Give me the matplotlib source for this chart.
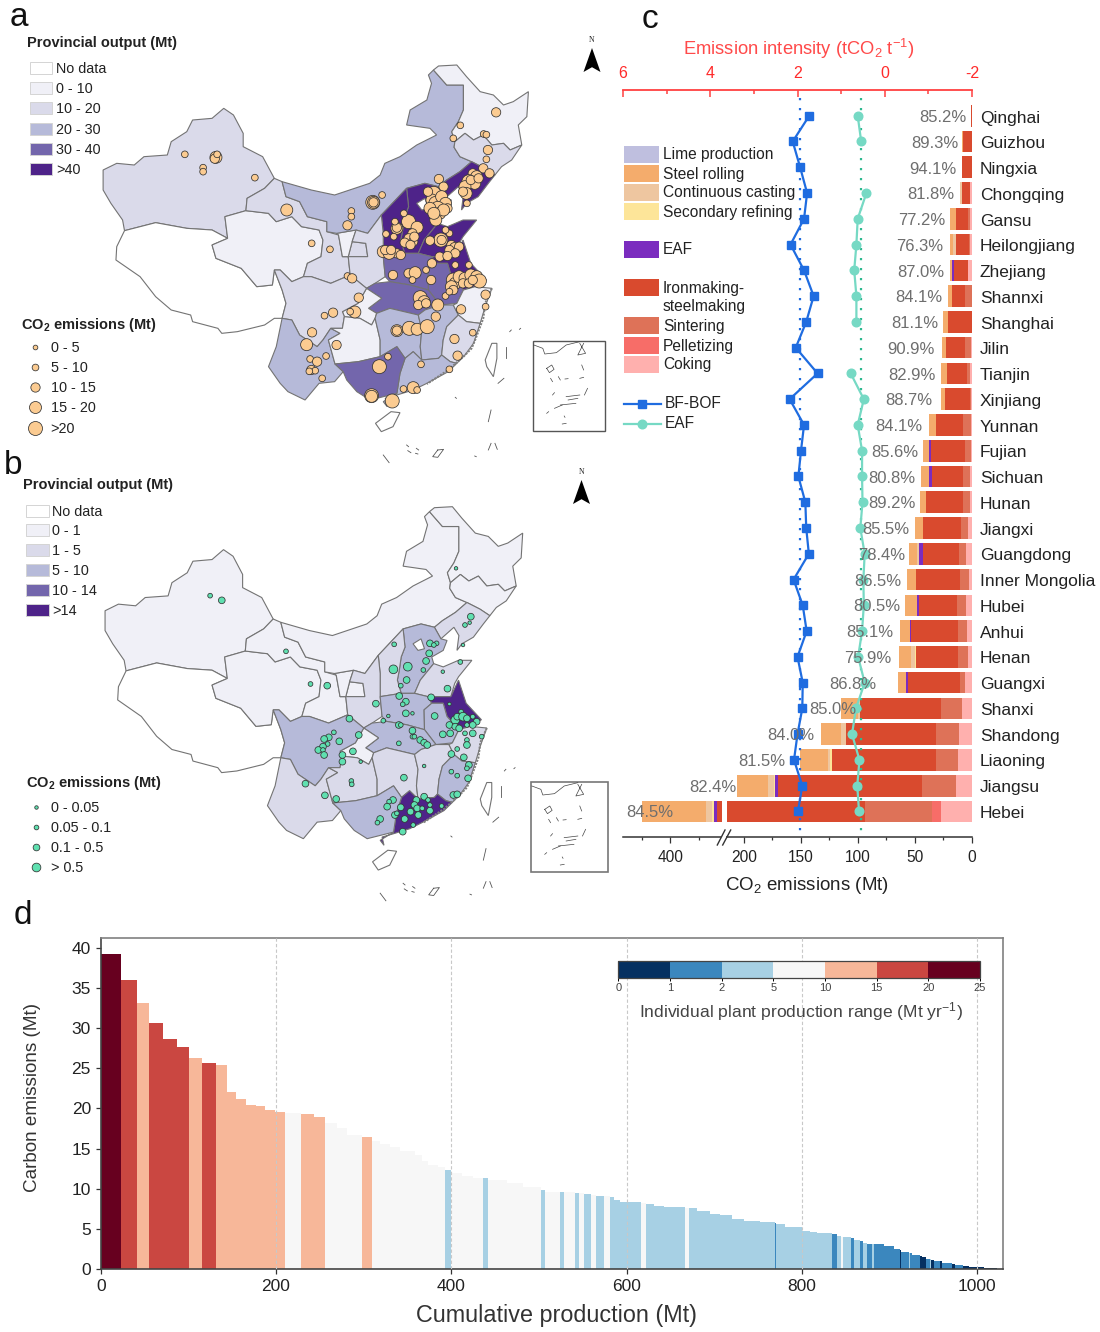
import numpy as np
import matplotlib
matplotlib.use('Agg')
import matplotlib.pyplot as plt
from matplotlib.colors import ListedColormap, BoundaryNorm
from matplotlib.cm import ScalarMappable
from matplotlib.patches import Polygon, Rectangle

plt.rcParams['font.family'] = ['Liberation Sans', 'DejaVu Sans']
plt.rcParams['mathtext.fontset'] = 'custom'
plt.rcParams['mathtext.rm'] = 'Liberation Sans'
plt.rcParams['mathtext.bf'] = 'Liberation Sans:bold'
plt.rcParams['mathtext.default'] = 'regular'

provinces = {
    'Xinjiang': [(265,510),(300,490),(345,495),(370,470),(430,465),(440,425),(480,395),(495,360),(545,355),(575,325),(600,345),(625,400),(625,440),(675,470),(705,535),(680,565),(635,595),(632,632),(578,650),(585,715),(545,690),(480,685),(400,668),(320,692),(315,660),(285,610),(265,570)],
    'Tibet': [(320,692),(300,740),(298,780),(360,830),(400,890),(440,930),(490,945),(495,965),(560,985),(570,1000),(610,995),(680,975),(705,955),(725,955),(735,910),(725,870),(705,810),(700,855),(660,860),(620,805),(555,775),(545,735),(585,715),(545,690),(480,685),(400,668)],
    'Qinghai': [(578,650),(632,632),(690,640),(710,665),(750,650),(775,680),(820,690),(830,720),(825,770),(790,790),(780,830),(750,845),(720,810),(705,810),(700,855),(660,860),(620,805),(555,775),(545,735),(585,715)],
    'Gansu': [(705,535),(725,545),(735,590),(770,605),(790,650),(840,665),(840,695),(870,705),(880,770),(895,770),(905,725),(940,730),(945,770),(895,770),(900,825),(850,850),(800,830),(780,830),(790,790),(825,770),(830,720),(820,690),(775,680),(750,650),(710,665),(690,640),(632,632),(635,595),(680,565)],
    'Ningxia': [(865,700),(915,690),(905,725),(895,770),(880,770),(870,705)],
    'Inner Mongolia': [(725,545),(800,570),(860,585),(950,550),(977,525),(989,490),(1028,470),(1071,435),(1122,405),(1105,385),(1045,375),(1054,330),(1097,300),(1109,250),(1101,225),(1114,210),(1148,255),(1191,255),(1191,330),(1178,365),(1161,395),(1169,425),(1167,442),(1182,470),(1212,485),(1182,515),(1148,540),(1127,560),(1092,550),(1045,565),(980,645),(945,700),(915,690),(865,700),(840,695),(840,665),(790,650),(770,605),(735,590)],
    'Heilongjiang': [(1114,210),(1127,198),(1174,195),(1199,230),(1234,275),(1268,285),(1294,315),(1319,305),(1358,275),(1354,350),(1332,375),(1341,435),(1311,450),(1294,430),(1264,435),(1242,405),(1217,420),(1195,400),(1169,425),(1161,395),(1178,365),(1191,330),(1191,255),(1148,255)],
    'Jilin': [(1169,425),(1195,400),(1217,420),(1242,405),(1264,435),(1294,430),(1311,450),(1341,435),(1315,480),(1289,500),(1272,525),(1246,505),(1212,485),(1182,470),(1167,442)],
    'Liaoning': [(1212,485),(1246,505),(1272,525),(1255,550),(1229,590),(1199,610),(1186,630),(1191,585),(1178,560),(1144,595),(1127,560),(1148,540),(1182,515)],
    'Hebei': [(1045,565),(1092,550),(1127,560),(1144,595),(1160,600),(1150,630),(1120,650),(1125,670),(1090,720),(1075,760),(1040,760),(1030,720),(1035,690),(1040,650),(1050,620)],
    'Beijing': [(1071,610),(1092,595),(1101,625),(1084,630)],
    'Shanxi': [(980,645),(1045,565),(1050,620),(1040,650),(1035,690),(1030,720),(1040,760),(985,770),(985,700)],
    'Shaanxi': [(915,690),(945,700),(980,645),(985,700),(985,770),(990,830),(964,850),(942,865),(900,825),(895,770),(945,770),(940,730),(905,725)],
    'Shandong': [(1075,760),(1090,720),(1125,670),(1150,680),(1190,660),(1225,660),(1190,710),(1180,730),(1170,770),(1110,770)],
    'Henan': [(985,770),(1040,760),(1075,760),(1110,770),(1120,790),(1100,810),(1101,870),(1054,855),(1002,845),(990,830)],
    'Jiangsu': [(1110,770),(1170,770),(1190,720),(1210,790),(1250,840),(1221,860),(1191,870),(1160,830),(1150,790),(1120,790)],
    'Anhui': [(1120,790),(1150,790),(1160,830),(1191,870),(1174,910),(1131,915),(1101,870),(1100,810)],
    'Hubei': [(947,925),(981,895),(942,865),(964,850),(1002,845),(1054,855),(1101,870),(1131,915),(1092,930),(1075,945),(1002,925),(968,940)],
    'Chongqing': [(880,935),(920,910),(942,865),(981,895),(947,925),(968,940),(964,955),(955,975),(925,955),(885,950)],
    'Sichuan': [(705,810),(720,810),(750,845),(780,830),(800,830),(850,850),(900,825),(942,865),(920,910),(880,935),(885,950),(880,985),(850,985),(830,1020),(815,1040),(770,1005),(750,960),(725,955),(735,910),(725,870)],
    'Yunnan': [(725,955),(750,960),(770,1005),(815,1040),(830,1020),(850,985),(874,1000),(844,1020),(861,1092),(882,1115),(860,1145),(820,1150),(784,1200),(740,1175),(720,1150),(690,1100),(710,1040)],
    'Guizhou': [(850,985),(880,985),(885,950),(925,955),(955,975),(964,955),(977,1020),(977,1070),(921,1085),(861,1092),(844,1020),(874,1000)],
    'Hunan': [(968,940),(1002,925),(1075,945),(1084,990),(1080,1040),(1084,1080),(1062,1055),(1041,1075),(1020,1040),(977,1070),(977,1020),(964,955)],
    'Jiangxi': [(1075,945),(1092,930),(1131,915),(1165,915),(1178,945),(1148,980),(1139,1020),(1135,1065),(1127,1075),(1084,1080),(1080,1040),(1084,990)],
    'Zhejiang': [(1191,870),(1221,860),(1264,865),(1247,920),(1234,970),(1199,965),(1178,945),(1165,915),(1174,910)],
    'Fujian': [(1178,945),(1199,965),(1234,970),(1217,1030),(1195,1065),(1174,1090),(1157,1085),(1135,1065),(1139,1020),(1148,980)],
    'Guangdong': [(1041,1075),(1062,1055),(1084,1080),(1127,1075),(1135,1065),(1157,1085),(1174,1090),(1152,1115),(1097,1150),(1062,1170),(1020,1185),(990,1195),(995,1220),(985,1205),(1020,1180),(1028,1120)],
    'Guangxi': [(861,1092),(921,1085),(977,1070),(1020,1040),(1041,1075),(1028,1120),(1020,1180),(951,1200),(917,1175),(891,1140),(882,1115)],
    'Hainan': [(965,1270),(1005,1235),(1028,1238),(1010,1280),(980,1295)],
    'Taiwan': [(1247,1080),(1264,1030),(1277,1030),(1277,1075),(1268,1130),(1251,1100)],
}
rough_coast = [(1264,865),(1247,910),(1242,955),(1221,1020),(1212,1045),(1191,1070),(1152,1110),(1097,1152)]

# class index of each province: -1 no data, 0..4 the five legend colours
output_a = {'Xinjiang':1,'Tibet':-1,'Qinghai':0,'Gansu':1,'Ningxia':0,'Inner Mongolia':2,'Heilongjiang':0,'Jilin':1,'Liaoning':4,'Hebei':4,'Beijing':-1,'Shanxi':4,'Shaanxi':1,'Shandong':4,'Henan':3,'Jiangsu':4,'Anhui':3,'Hubei':3,'Chongqing':0,'Sichuan':1,'Yunnan':2,'Guizhou':0,'Hunan':2,'Jiangxi':2,'Zhejiang':0,'Fujian':1,'Guangdong':2,'Guangxi':3,'Hainan':-1,'Taiwan':-1}
output_b = {'Xinjiang':0,'Tibet':-1,'Qinghai':0,'Gansu':0,'Ningxia':0,'Inner Mongolia':0,'Heilongjiang':0,'Jilin':0,'Liaoning':1,'Hebei':2,'Beijing':-1,'Shanxi':1,'Shaanxi':1,'Shandong':1,'Henan':2,'Jiangsu':4,'Anhui':2,'Hubei':2,'Chongqing':0,'Sichuan':2,'Yunnan':1,'Guizhou':1,'Hunan':1,'Jiangxi':1,'Zhejiang':1,'Fujian':2,'Guangdong':4,'Guangxi':2,'Hainan':-1,'Taiwan':-1}
map_colors = ['#F0F0F7', '#DADAEA', '#B6BAD9', '#7366AC', '#4E2389']

# plants: x, y, size class
plants_a = [(1275,337,2),(1183,376,1),(1165,415,1),(1243,402,1),(1250,404,1),(1254,450,2),(1250,478,1),(1242,505,2),(1258,520,2),
    (1215,520,2),(1225,530,3),(1205,545,4),(1220,550,3),(1195,560,3),(1198,580,3),(1210,540,2),(1230,535,2),(1200,610,1),(1190,575,2),
    (1128,537,2),(1140,560,2),(1115,580,4),(1110,600,3),(1120,610,4),(1135,590,3),(1145,610,3),(1125,625,4),(1105,625,3),(1150,625,2),(1130,640,3),(1120,660,3),(1100,575,2),(1140,630,3),(1115,640,3),
    (958,607,4),(960,607,3),(960,607,2),(982,585,1),(903,633,1),(903,650,1),(893,676,2),
    (475,463,1),(555,472,3),(552,476,2),(558,463,1),(522,503,1),(522,515,1),(655,533,1),
    (737,630,3),(801,730,1),(848,748,1),(893,828,1),(905,835,2),
    (922,893,2),(856,938,2),(834,947,1),(912,936,3),(900,935,1),(802,997,2),(788,1034,3),(865,1035,2),(838,1068,1),(797,1077,1),(815,1085,2),(800,1110,2),(810,1112,1),(795,1114,1),(828,1135,1),
    (1050,665,4),(1020,685,3),(1020,683,2),(1012,710,1),(992,702,1),(1072,682,3),(1038,640,1),(1015,665,1),(1020,760,2),(1030,765,2),(985,755,3),(1000,760,3),(990,750,2),(1005,750,2),(1060,700,2),(1050,715,2),(1062,725,2),(1040,728,2),(1055,735,2),(1065,710,2),
    (1133,720,4),(1135,720,2),(1105,722,2),(1155,700,1),(1160,735,2),(1170,745,3),(1155,750,2),(1180,740,2),(1170,760,2),(1145,690,1),(1130,770,2),(1150,768,2),(1110,790,2),(1095,810,1),
    (1010,825,2),(1050,820,2),(1067,818,3),(1108,840,2),(1060,840,1),
    (1165,840,4),(1170,850,3),(1180,830,3),(1195,835,3),(1210,825,3),(1225,830,3),(1232,843,4),(1160,860,3),(1190,850,2),(1205,850,2),(1215,840,2),(1170,795,1),(1205,795,1),(1165,870,2),(1145,888,1),(1155,875,1),(1248,884,2),
    (1080,893,4),(1090,905,3),(1075,915,2),(1095,910,2),(1125,915,3),
    (1185,928,2),(1248,920,1),(1215,998,1),(1168,1017,2),(1176,1067,2),(1155,1108,1),(1120,950,2),
    (1020,992,3),(1020,992,2),(1052,985,4),(1072,988,3),(1098,980,4),
    (975,1100,4),(955,1187,4),(955,1189,3),(997,1070,1),
    (1082,1093,1),(1062,1163,3),(1037,1167,1),(1072,1170,1),(1008,1203,4)]
plants_b = [(540,437,1),(570,451,2),(1172,355,0),(1210,500,2),(1195,525,1),(1207,518,0),(1190,585,0),(1183,636,1),(1138,665,0),(735,604,1),(798,702,1),(841,707,2),(1013,583,1),(1105,580,2),(1122,580,1),(1115,585,1),(1103,610,2),(1095,633,2),(1088,660,1),(1048,650,3),(1011,658,3),(1045,690,2),(1030,707,1),(1026,738,2),(1043,755,2),(1035,763,1),(1043,790,2),(1060,790,0),(966,761,2),(898,806,2),(985,812,1),(998,798,0),(1025,825,2),(1030,825,1),(1060,842,2),(1060,860,1),(1150,716,2),(1108,742,2),(1117,798,2),(1155,762,0),(1170,810,3),
    (1185,785,1),(1175,800,2),(1190,800,3),(1200,805,2),(1215,800,1),(1225,815,2),(1155,825,2),(1170,830,2),(1180,835,2),(1200,825,1),(1215,825,2),(1215,850,2),(1195,850,1),(1157,850,2),(1138,853,2),(1200,870,1),(1200,885,2),(1175,897,1),(1160,912,2),(1192,922,2),(1238,860,1),(1025,880,1),(1065,860,1),(1080,870,2),(1090,878,2),(1098,885,2),(1090,948,0),
    (858,847,1),(845,862,2),(833,867,2),(842,882,1),(830,890,2),(818,900,2),(830,900,1),(833,915,2),(872,874,2),(922,855,2),(907,904,2),(880,915,2),(880,935,2),(927,935,0),(785,1001,2),(835,1036,2),(864,1047,2),(903,993,1),(904,1003,1),(1038,983,2),
    (1160,965,1),(1175,977,1),(1205,945,2),(1200,955,1),(1203,985,2),(1165,1035,2),(1175,1033,2),
    (1070,1050,2),(1090,1040,2),(1100,1050,1),(1065,1065,2),(1072,1075,2),(1055,1085,2),(1075,1095,2),(1105,1065,1),(1105,1082,2),(1135,1068,1),(1085,1075,1),(1030,1072,2),(1015,1095,2),(1020,1090,1),(1040,1107,2),(1062,1125,1),(1035,1145,2),(1010,1050,2),(1000,1055,1),(995,1070,2),(977,1107,2),(970,1118,1)]
sizes_a = [4.7, 6.7, 9.3, 12, 14]
sizes_b = [3.5, 4.7, 6.7, 8.7]

# island dashes south of the mainland and the inset coast
sea_marks = [[(1300,1040),(1300,1075)],[(1280,1150),(1295,1135)],[(1255,1265),(1262,1230)],[(985,1365),(1000,1388)],[(1125,1350),(1140,1348),(1125,1372),(1112,1370),(1125,1350)],[(1255,1350),(1262,1330)],[(1272,1330),(1278,1348)],[(1045,1335),(1050,1340)],[(1048,1352),(1056,1358)],[(1070,1345),(1076,1350)],[(1068,1360),(1074,1362)],[(1220,1368),(1224,1370)],[(1170,1192),(1173,1195)],[(1310,995),(1314,990)],[(1335,988),(1338,985)]]
inset_lines = [[(1372,1035),(1395,1045),(1400,1062),(1430,1058),(1455,1035),(1490,1025)],[(1490,1030),(1505,1060),(1485,1065),(1500,1030)],[(1405,1105),(1418,1095),(1424,1108),(1412,1118),(1405,1105)],[(1495,1095),(1500,1110)],[(1415,1135),(1420,1145)],[(1435,1130),(1440,1140)],[(1452,1137),(1460,1136)],[(1490,1135),(1500,1132)],[(1510,1165),(1502,1185)],[(1455,1190),(1490,1185)],[(1460,1200),(1485,1195)],[(1440,1215),(1480,1210)],[(1420,1185),(1425,1178)],[(1405,1240),(1410,1235)],[(1425,1225),(1445,1215)],[(1450,1248),(1452,1252)],[(1445,1272),(1455,1270)]]

legend_a = ['No data', '0 - 10', '10 - 20', '20 - 30', '30 - 40', '>40']
legend_b = ['No data', '0 - 1', '1 - 5', '5 - 10', '10 - 14', '>14']
co2_a = ['0 - 5', '5 - 10', '10 - 15', '15 - 20', '>20']
co2_b = ['0 - 0.05', '0.05 - 0.1', '0.1 - 0.5', '> 0.5']

# ---- panel c ----
regions = ['Qinghai','Guizhou','Ningxia','Chongqing','Gansu','Heilongjiang','Zhejiang','Shannxi','Shanghai','Jilin','Tianjin','Xinjiang','Yunnan','Fujian','Sichuan','Hunan','Jiangxi','Guangdong','Inner Mongolia','Hubei','Anhui','Henan','Guangxi','Shanxi','Shandong','Liaoning','Jiangsu','Hebei']
coking =     [0,0.4,0.3,1.5,1.5,1.7,3.2,0.3,0,0.9,1.7,0.6,0.6,0.9,1.7,2,3.2,5.6,2.9,5.3,4.4,3.8,6.4,8.8,11.1,12,14,27]
pelletizing =[0,0,0,0,0,0,0,0,0,0,0,0,0,0,0,0,0,0,0,0,0,0,0,0,0,0,0,8.5]
sintering =  [0,0,0,0,2,0.6,0,5.5,0,5.5,2.6,1.2,7,5.3,5.8,6,6.7,6.1,7.6,7.6,7.9,8.5,4.1,18.4,20.5,19.6,29.5,58]
ironmaking = [0.7,7.8,8.2,7,10.8,11.7,13,11.4,21,16.7,18,22,23.7,29.8,27.8,32.5,33,31,38.9,33.6,41.2,36.8,45.3,71,78.9,91,126.3,141.5]
eaf_part =   [0,0,0,0,0,0,1,0,0.4,0,0,0,0,1.5,2,0,0,3.8,0,1.8,1.2,0,2,0,0,0,2.6,10]
secondary =  [0,0,0,0,0,0,0,0,0,0,0,0,0,0,0,0,0,0,0,0,0,0.5,0,0,0,1.5,1.2,8]
casting =    [0,0,0,2.3,0,2.3,0,0,0,0,0,0,0,0,0,0,0,1.5,0,0,0,4.1,0,1.5,4.1,2,5,21]
rolling =    [0.3,0.6,0.5,0,4.7,2.9,1.8,3.5,4.4,2.9,4.7,3.5,6.4,5.3,7,5,7.3,7.6,7.6,10.5,8.5,10.5,7.3,14.9,17.5,24.6,27.2,224]
stages = [coking, pelletizing, sintering, ironmaking, eaf_part, secondary, casting, rolling]
stage_colors = ['#FFB0AE', '#F76D68', '#DE7258', '#D94A2E', '#7B2CBF', '#FDE599', '#EEC6A0', '#F4AC6C']
share = ['85.2%','89.3%','94.1%','81.8%','77.2%','76.3%','87.0%','84.1%','81.1%','90.9%','82.9%','88.7%','84.1%','85.6%','80.8%','89.2%','85.5%','78.4%','86.5%','80.5%','85.1%','75.9%','86.8%','85.0%','84.0%','81.5%','82.4%','84.5%']
nan = float('nan')
bf_bof = [1.73,2.11,1.94,1.78,1.85,2.16,1.85,1.63,1.80,2.04,1.54,2.18,1.85,1.92,1.98,1.82,1.80,1.74,2.09,1.88,1.79,2.00,1.88,1.89,2.00,2.08,1.89,1.99]
eaf_line = [0.62,0.54,nan,0.42,0.62,0.65,0.70,0.65,0.65,nan,0.78,0.48,0.62,0.52,0.52,0.51,0.56,0.46,0.49,0.48,0.52,0.61,0.46,0.66,0.75,0.58,0.63,0.59]
bf_mean = 1.95
eaf_mean = 0.54
share_right = [966,958.3,956.7,954.3,945,943.3,944,942.7,938.3,935,936,932.7,922.7,918.3,915,916,909.3,905,901,900,893.3,891,876,856.7,814.3,785,736,673.3]
stage_legend = [('Lime production','#BFBFDF',154),('Steel rolling','#F4AC6C',173),('Continuous casting','#EEC6A0',192),('Secondary refining','#FDE599',211),('EAF','#7B2CBF',249),('Ironmaking-\nsteelmaking','#D94A2E',287),('Sintering','#DE7258',325.7),('Pelletizing','#F76D68',345),('Coking','#FFB0AE',364)]

# ---- panel d: visible steps of the sorted plant bars ----
run_end = [23.2,41.1,55.5,70.7,86.7,101.1,116,131.9,144.5,154.4,166.2,176.8,187.5,198.9,209.9,228.5,243.3,255.5,269.2,281,297.7,309.1,318.6,330,341.4,358.6,366.2,373.8,385.2,393.2,399.2,411.8,425.1,436.5,441.8,463.1,482.1,502.3,507.2,523.9,528.1,
    540.7,545.2,551,559.7,565.4,574.5,580.6,585.9,592.8,616.3,621.7,630.8,642.2,666.2,671.5,680.2,695.4,706.8,720.2,733.5,752.5,768.8,770.3,781,800,809.5,817.1,834.2,839.9,844.5,846.4,855.9,859.7,866.5,869.6,874.1,879.8,882.5,893.2,904.6,
    911.4,912.9,921.7,923.6,925.5,935,936.9,941,946,947,951,958,960,971,975,984,990,999.6,1008,1015,1022,1029]
run_height = [39.25,36.0,33.1,30.6,28.6,27.7,26.3,25.6,25.35,22.0,21.2,20.4,20.25,19.75,19.5,19.45,19.3,18.9,18.2,17.55,16.7,16.4,15.9,15.6,15.2,14.65,14.2,13.5,13.0,12.65,12.35,11.95,11.55,11.3,11.3,11.1,10.7,10.2,9.8,9.65,9.65,
    9.55,9.45,9.45,9.4,9.25,9.15,9.05,8.95,8.55,8.3,8.2,8.1,7.9,7.7,7.6,7.55,7.2,6.85,6.7,6.2,6.0,5.9,5.7,5.65,5.2,4.75,4.55,4.45,4.3,4.05,4.0,3.95,3.8,3.65,3.5,3.25,3.15,3.15,3.1,2.9,
    2.5,2.4,2.07,2.0,1.95,1.7,1.58,1.45,1.3,1.25,1.15,1.05,1.0,0.8,0.66,0.5,0.42,0.3,0.22,0.17,0.11,0.05]
run_bin = [6,5,4,5,5,5,4,5,4,4,4,4,4,4,4,3,4,4,3,3,3,4,3,3,3,3,3,3,3,3,2,3,3,3,2,3,3,3,2,3,2,
    3,2,3,2,3,2,3,2,2,2,3,2,2,2,3,2,2,2,2,2,2,2,1,2,2,2,2,2,1,2,3,2,1,2,1,2,1,2,1,1,
    1,0,1,2,1,1,0,0,1,2,0,1,0,1,0,1,0,0,0,0,0,0]
bin_colors = ['#053061', '#3B87BE', '#A7D0E4', '#F7F7F7', '#F7B799', '#CA4741', '#67001F']
bin_edges = [0, 1, 2, 5, 10, 15, 20, 25]

fig = plt.figure(figsize=(11, 13.32), dpi=100)


def px_axes(l, t, r, b):
    return fig.add_axes([l / 1100, 1 - b / 1332, (r - l) / 1100, (b - t) / 1332])


# ---- maps a and b ----
def draw_map(ax, classes, plants, sizes, dot, to_x, to_y):
    for name, pts in provinces.items():
        xy = [(to_x(p[0]), to_y(p[1])) for p in pts]
        c = classes[name]
        ax.add_patch(Polygon(xy, closed=True, fc='white' if c < 0 else map_colors[c], ec='#737373', lw=0.8))
    ax.plot([to_x(p[0]) for p in rough_coast], [to_y(p[1]) for p in rough_coast], color='#808080', lw=1.5, ls=(0, (1, 0.6)))
    for seg in sea_marks:
        ax.plot([to_x(p[0]) for p in seg], [to_y(p[1]) for p in seg], color='#555555', lw=0.6)
    px = [p[0] for p in plants]
    py = [p[1] for p in plants]
    ss = [(sizes[p[2]] * 0.72) ** 2 for p in plants]
    ax.scatter(px, py, s=ss, c=dot, edgecolors='#333333', linewidths=0.55, zorder=3)


ax_a = fig.add_axes([0, 0, 1, 1])
ax_a.set_xlim(0, 1100 * 2.57)
ax_a.set_ylim(1332 * 3, 0)
ax_a.axis('off')
draw_map(ax_a, output_a, plants_a, sizes_a, '#FBCB91', lambda x: x, lambda y: y)
ax_a.add_patch(Rectangle((1370, 1022), 185, 271, fc='none', ec='#555555', lw=1))
for seg in inset_lines:
    ax_a.plot([p[0] for p in seg], [p[1] for p in seg], color='#444444', lw=0.5)

ax_b = fig.add_axes([0, 0, 1, 1], facecolor='none')
ax_b.set_xlim(0, 1100 * 2.57)
ax_b.set_ylim((1332 - 450) * 3, -450 * 3)
ax_b.axis('off')
draw_map(ax_b, output_b, plants_b, sizes_b, '#5FE0B0', lambda x: 270 + 0.982 * (x - 265), lambda y: 180 + 0.991 * (y - 205))
ax_b.add_patch(Rectangle((1365, 995), 197, 270, fc='none', ec='#777777', lw=1.2))
for seg in inset_lines:
    ax_b.plot([p[0] - 5 for p in seg], [p[1] - 27 for p in seg], color='#444444', lw=0.5)


# ---- panel c, the x axis jumps over 215-218 Mt and is compressed above it ----
def fwd(v):
    v = np.asarray(v, dtype=float)
    return np.where(v <= 215, v, np.where(v <= 218, 215 + (v - 215) * 4.4 / 3, 219.4 + (v - 218) * 0.2485))


def inv(u):
    u = np.asarray(u, dtype=float)
    return np.where(u <= 215, u, np.where(u <= 219.4, 215 + (u - 215) * 3 / 4.4, 218 + (u - 219.4) / 0.2485))


ax_c = px_axes(623, 90, 972, 837)
ax_c.patch.set_alpha(0)
ax_c.set_xscale('function', functions=(fwd, inv))
ax_c.set_xlim(566.5, 0)
ax_c.set_ylim(27.99, -0.998)
rows = np.arange(len(regions))
start = np.zeros(len(regions))
for vals, col in zip(stages, stage_colors):
    ax_c.barh(rows, vals, left=start, height=0.84, color=col, lw=0)
    start = start + np.array(vals)
ax_c.barh([27], [3], left=[215], height=0.9, color='white', lw=0, zorder=2)
for s in ['left', 'right', 'top']:
    ax_c.spines[s].set_visible(False)
ax_c.spines['bottom'].set_color('#333333')
ax_c.spines['bottom'].set_linewidth(1.1)
ax_c.set_yticks([])
ax_c.set_xticks([0, 50, 100, 150, 200, 400])
ax_c.set_xticklabels(['0', '50', '100', '150', '200', '400'], fontsize=11.2, color='#222222')
ax_c.set_xticks([25, 75, 125, 175, 300, 500], minor=True)
ax_c.tick_params(axis='x', which='major', direction='out', length=4, width=0.9, pad=5, color='#333333')
ax_c.tick_params(axis='x', which='minor', direction='out', length=2.5, width=0.9, color='#333333')

ax_top = ax_c.twiny()
ax_top.set_xlim(6, -2)
ax_top.set_xticks([6, 4, 2, 0, -2])
ax_top.set_xticks([5, 3, 1, -1], minor=True)
ax_top.xaxis.set_major_formatter(lambda v, p: str(int(v)))
for s in ['left', 'right', 'bottom']:
    ax_top.spines[s].set_visible(False)
ax_top.spines['top'].set_color('#FF4040')
ax_top.spines['top'].set_linewidth(1.3)
ax_top.tick_params(axis='x', which='major', direction='in', length=5, width=1.1, color='#FF4040', labelcolor='#FF2A2A', labelsize=11.5, pad=6.5)
ax_top.tick_params(axis='x', which='minor', direction='in', length=3, width=1.1, color='#FF4040')
ax_top.plot([bf_mean, bf_mean], [-0.7, 27.9], color='#1F6CE0', lw=1.6, ls=(0, (1, 3.5)), zorder=2)
ax_top.plot([eaf_mean, eaf_mean], [-0.7, 27.9], color='#2EB88F', lw=1.6, ls=(0, (1, 3.5)), zorder=2)
ax_top.plot(bf_bof, rows, color='#1F6CE0', lw=1.6, marker='s', ms=5.5, zorder=3)
ax_top.plot(eaf_line, rows, color='#76D9C4', lw=1.6, marker='o', ms=6.2, zorder=3)

# ---- panel d ----
ax_d = px_axes(100.7, 938, 1002.7, 1269)
ax_d.set_xlim(0, 1029)
ax_d.set_ylim(0, 331 / 8.03)
run_left = [0] + run_end[:-1]
run_width = np.array(run_end) - np.array(run_left)
ax_d.bar(run_left, run_height, width=run_width, align='edge', color=[bin_colors[b] for b in run_bin], lw=0)
for v in [200, 400, 600, 800, 1000]:
    ax_d.axvline(v, color='#c8c8c8', lw=0.8, ls=(0, (3, 2)), zorder=3)
ax_d.set_xticks([0, 200, 400, 600, 800, 1000])
ax_d.set_yticks(range(0, 45, 5))
ax_d.tick_params(labelsize=12.5, length=3.5, width=0.9, color='#333333', labelcolor='#222222')
for s in ax_d.spines.values():
    s.set_color('#808080')
    s.set_linewidth(1.2)
ax_d.spines['bottom'].set_color('#444444')
ax_d.spines['left'].set_color('#444444')

cax = px_axes(618.3, 961, 980, 978.3)
cmap = ListedColormap(bin_colors)
norm = BoundaryNorm(bin_edges, cmap.N)
cb = fig.colorbar(ScalarMappable(norm=norm, cmap=cmap), cax=cax, orientation='horizontal', spacing='uniform', ticks=bin_edges)
cb.ax.tick_params(labelsize=8, length=2, width=0.7, pad=1.5, labelcolor='#444444')
cb.outline.set_edgecolor('#444444')
cb.outline.set_linewidth(0.9)
cb.dividers.set_visible(False)

# ---- all the free text and legends, in pixel coordinates ----
page = fig.add_axes([0, 0, 1, 1], facecolor='none', zorder=10)
page.set_xlim(0, 1100)
page.set_ylim(1332, 0)
page.axis('off')
txt = '#222222'

for s, x, y in [('a', 10, 18), ('b', 4, 465), ('c', 650, 19), ('d', 14, 915)]:
    page.text(x, y, s, fontsize=24, ha='left' if s != 'c' else 'center', va='center', color='#111111')


def map_legend(title_x, title_y, sw_l, sw_r, text_x, ys, labels, co2_title_x, co2_title_y, dot_x, dot_ys, dot_sizes, dot_labels, dot_text_x, dot_col):
    page.text(title_x, title_y, 'Provincial output (Mt)', fontsize=10.5, fontweight='bold', va='center', color=txt)
    for i, (y, lab) in enumerate(zip(ys, labels)):
        fc = 'white' if i == 0 else map_colors[i - 1]
        page.add_patch(Rectangle((sw_l, y - 6), sw_r - sw_l, 12, fc=fc, ec='#d4d4d4', lw=0.7))
        page.text(text_x, y + 1, lab, fontsize=10.4, va='center', color=txt)
    page.text(co2_title_x, co2_title_y, r'CO$_{\mathbf{2}}$ emissions (Mt)', fontsize=10.5, fontweight='bold', va='center', color=txt)
    for y, d, lab in zip(dot_ys, dot_sizes, dot_labels):
        page.scatter([dot_x], [y], s=(d * 0.72) ** 2, c=dot_col, edgecolors='#333333', linewidths=0.55)
        page.text(dot_text_x, y + 1, lab, fontsize=10.4, va='center', color=txt)


map_legend(27, 43, 30, 52, 56, [68.3, 88.3, 108.3, 128.7, 149, 169.3], legend_a, 21, 325, 35, [346.7, 366.7, 387.3, 407.3, 427.7], sizes_a, co2_a, 50.6, '#FBCB91')
map_legend(23, 485, 26, 48.6, 52.5, [511, 530, 550, 570, 590, 610], legend_b, 25.7, 783, 36, [806.7, 826.7, 846.7, 866.7], sizes_b, co2_b, 51, '#5FE0B0')


def north_arrow(cx, top, h, w):
    page.add_patch(Polygon([(cx, top), (cx + w / 2, top + h), (cx, top + h * 0.8), (cx - w / 2, top + h)], fc='black', ec='none'))
    page.text(cx, top - 8, 'N', fontsize=5.5, family=['Liberation Serif', 'DejaVu Serif'], ha='center', va='center', color=txt)


north_arrow(592, 48, 24, 17)
north_arrow(581.5, 480, 24, 17)

# panel c text
page.text(799, 49, r'Emission intensity (tCO$_2$ t$^{-1}$)', fontsize=13.2, color='#FF4A4A', ha='center', va='center')
page.text(806.7, 885.5, r'CO$_2$ emissions (Mt)', fontsize=13.5, color=txt, ha='center', va='center')
for i, (name, lab, rx) in enumerate(zip(regions, share, share_right)):
    y = 115.7 + 25.75 * i
    page.text(980, y + 2.5, name, fontsize=12.5, color=txt, va='center')
    page.text(rx, y + 2, lab, fontsize=12, color='#6e6e6e', ha='right', va='center')
for name, col, y in stage_legend:
    page.add_patch(Rectangle((623.5, y - 8.5), 35, 17, fc=col, ec='none'))
    if '\n' in name:
        a, b = name.split('\n')
        page.text(663, y + 1, a, fontsize=11.2, color=txt, va='center')
        page.text(663, y + 20, b, fontsize=11.2, color=txt, va='center')
    else:
        page.text(663, y + 1, name, fontsize=11.2, color=txt, va='center')
page.plot([624, 661], [404, 404], color='#1F6CE0', lw=1.6)
page.plot([642], [404], color='#1F6CE0', marker='s', ms=5.5)
page.plot([624, 661], [423.7, 423.7], color='#76D9C4', lw=1.6)
page.plot([642], [423.7], color='#76D9C4', marker='o', ms=6.2)
page.text(665, 404, 'BF-BOF', fontsize=11.2, color=txt, va='center')
page.text(665, 423.7, 'EAF', fontsize=11.2, color=txt, va='center')

# axis break of panel c
page.add_patch(Rectangle((720.5, 835), 5, 4, fc='white', ec='none'))
page.plot([717.3, 725], [845, 830], color='#333333', lw=1)
page.plot([722.7, 730.7], [845, 830], color='#333333', lw=1)

# panel d text
page.text(33, 1098, 'Carbon emissions (Mt)', fontsize=13.6, rotation=90, ha='center', va='center', color='#333333')
page.text(557, 1315.5, 'Cumulative production (Mt)', fontsize=16.8, ha='center', va='center', color='#333333')
page.text(801, 1011.7, r'Individual plant production range (Mt yr$^{-1}$)', fontsize=12.6, ha='center', va='center', color='#444444')

fig.savefig('out.png', dpi=100)
